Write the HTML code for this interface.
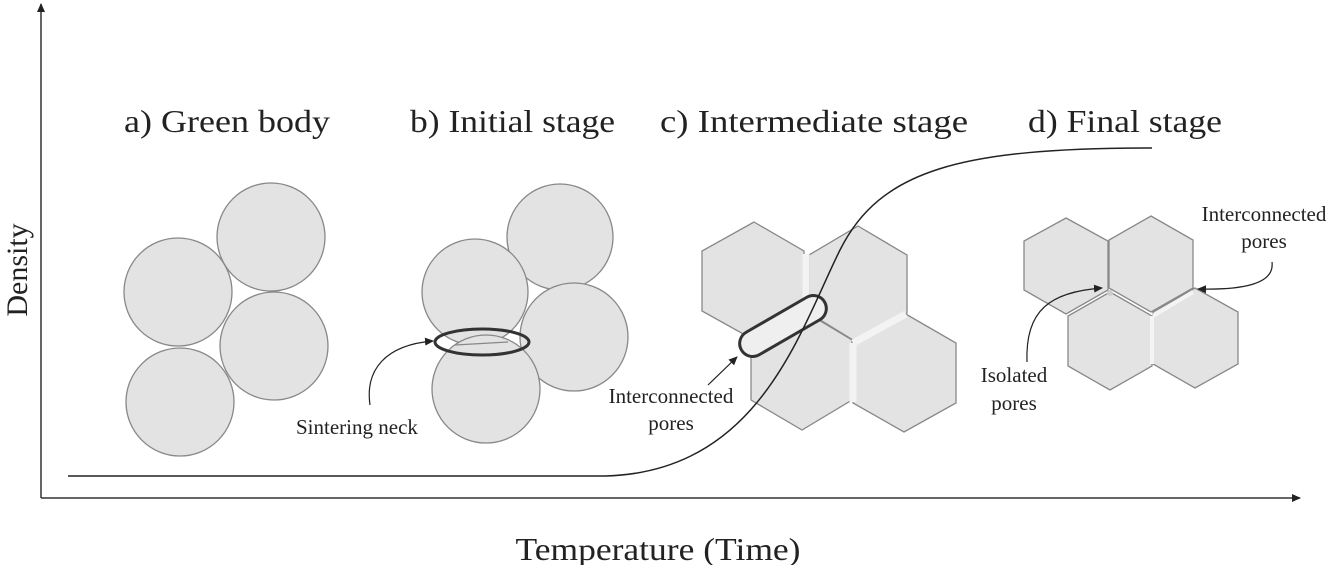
<!DOCTYPE html>
<html><head><meta charset="utf-8"><style>html,body{margin:0;padding:0;background:#fff}svg{display:block}</style></head>
<body>
<svg width="1338" height="565" viewBox="0 0 1338 565" xmlns="http://www.w3.org/2000/svg" font-family="'Liberation Serif', serif">
<defs>
<marker id="ah" markerWidth="10" markerHeight="10" refX="8" refY="5" orient="auto" markerUnits="userSpaceOnUse"><path d="M0,1 L9,5 L0,9 z" fill="#222"/></marker>
</defs>
<!-- axes -->
<line x1="41" y1="498" x2="41" y2="4" stroke="#333" stroke-width="1.5" marker-end="url(#ah)"/>
<line x1="41" y1="498" x2="1300" y2="498" stroke="#333" stroke-width="1.5" marker-end="url(#ah)"/>
<text x="27" y="270" font-size="30" text-anchor="middle" transform="rotate(-90 27 270)" fill="#222">Density</text>
<text x="658" y="560" font-size="32" text-anchor="middle" fill="#222" textLength="285" lengthAdjust="spacingAndGlyphs">Temperature (Time)</text>
<!-- titles -->
<g font-size="32" fill="#222">
<text x="124" y="132" textLength="206" lengthAdjust="spacingAndGlyphs">a) Green body</text>
<text x="410" y="132" textLength="205" lengthAdjust="spacingAndGlyphs">b) Initial stage</text>
<text x="660" y="132" textLength="308" lengthAdjust="spacingAndGlyphs">c) Intermediate  stage</text>
<text x="1028" y="132" textLength="194" lengthAdjust="spacingAndGlyphs">d) Final stage</text>
</g>
<!-- a circles -->
<g fill="#e3e3e3" stroke="#888" stroke-width="1.3">
<circle cx="178" cy="292" r="54"/>
<circle cx="271" cy="237" r="54"/>
<circle cx="274" cy="346" r="54"/>
<circle cx="180" cy="402" r="54"/>
</g>
<!-- b circles -->
<g fill="#e3e3e3" stroke="#888" stroke-width="1.3">
<circle cx="560" cy="237" r="53"/>
<circle cx="475" cy="292" r="53"/>
<circle cx="574" cy="337" r="54"/>
<circle cx="486" cy="389" r="54"/>
</g>
<line x1="455" y1="345" x2="508" y2="342" stroke="#888" stroke-width="1.2"/>
<ellipse cx="482" cy="342" rx="47" ry="13" fill="none" stroke="#333" stroke-width="3"/>
<path d="M370,405 C365,370 385,345 433,341" fill="none" stroke="#222" stroke-width="1.2" marker-end="url(#ah)"/>
<text x="296" y="434" font-size="21" fill="#222">Sintering neck</text>
<!-- c hexagons -->
<g fill="#e3e3e3" stroke="#888" stroke-width="1.3">
<polygon points="754,222 804,251 804,311 754,340 702,311 702,251"/>
<polygon points="858,226 907,255 907,313 858,343 809,313 809,255"/>
<polygon points="802,310 852,340 852,400 802,430 751,400 751,340"/>
<polygon points="904,313 956,343 956,403 904,432 853,403 853,343"/>
</g>
<g stroke="#f3f3f3" stroke-width="7">
<line x1="806" y1="254" x2="806" y2="312"/>
<line x1="853" y1="343" x2="906" y2="314"/>
<line x1="853" y1="343" x2="853" y2="402"/>
</g>
<rect x="735" y="313" width="96" height="26" rx="13" ry="13" transform="rotate(-30 783 326)" fill="#efefef" stroke="#333" stroke-width="3"/>
<path d="M708,385 L737,357" stroke="#222" stroke-width="1.2" marker-end="url(#ah)"/>
<text x="671" y="403" font-size="21" fill="#222" text-anchor="middle">Interconnected</text>
<text x="671" y="430" font-size="21" fill="#222" text-anchor="middle">pores</text>
<!-- d hexagons -->
<g fill="#e3e3e3" stroke="#888" stroke-width="1.3">
<polygon points="1066,218 1108,241 1108,290 1066,314 1024,290 1024,241"/>
<polygon points="1151,216 1193,240 1193,288 1151,312 1109,288 1109,240"/>
<polygon points="1110,292 1152,316 1152,366 1110,390 1068,366 1068,316"/>
<polygon points="1195,288 1238,312 1238,364 1195,388 1153,364 1153,312"/>
</g>
<line x1="1153" y1="316" x2="1193" y2="292" stroke="#f4f4f4" stroke-width="4"/>
<line x1="1152" y1="316" x2="1152" y2="364" stroke="#f4f4f4" stroke-width="4"/>
<circle cx="1110" cy="293" r="3" fill="#ccc"/>
<path d="M1027,362 C1025,310 1050,292 1102,288" fill="none" stroke="#222" stroke-width="1.2" marker-end="url(#ah)"/>
<path d="M1272,262 C1275,285 1240,290 1198,289" fill="none" stroke="#222" stroke-width="1.2" marker-end="url(#ah)"/>
<text x="1264" y="221" font-size="21" fill="#222" text-anchor="middle">Interconnected</text>
<text x="1264" y="248" font-size="21" fill="#222" text-anchor="middle">pores</text>
<text x="1014" y="382" font-size="21" fill="#222" text-anchor="middle">Isolated</text>
<text x="1014" y="410" font-size="21" fill="#222" text-anchor="middle">pores</text>
<!-- density curve -->
<path d="M68,476 L605,476 C760,472 800,330 840,250 C880,170 960,148 1152,148" fill="none" stroke="#222" stroke-width="1.5"/>
</svg>
</body></html>
